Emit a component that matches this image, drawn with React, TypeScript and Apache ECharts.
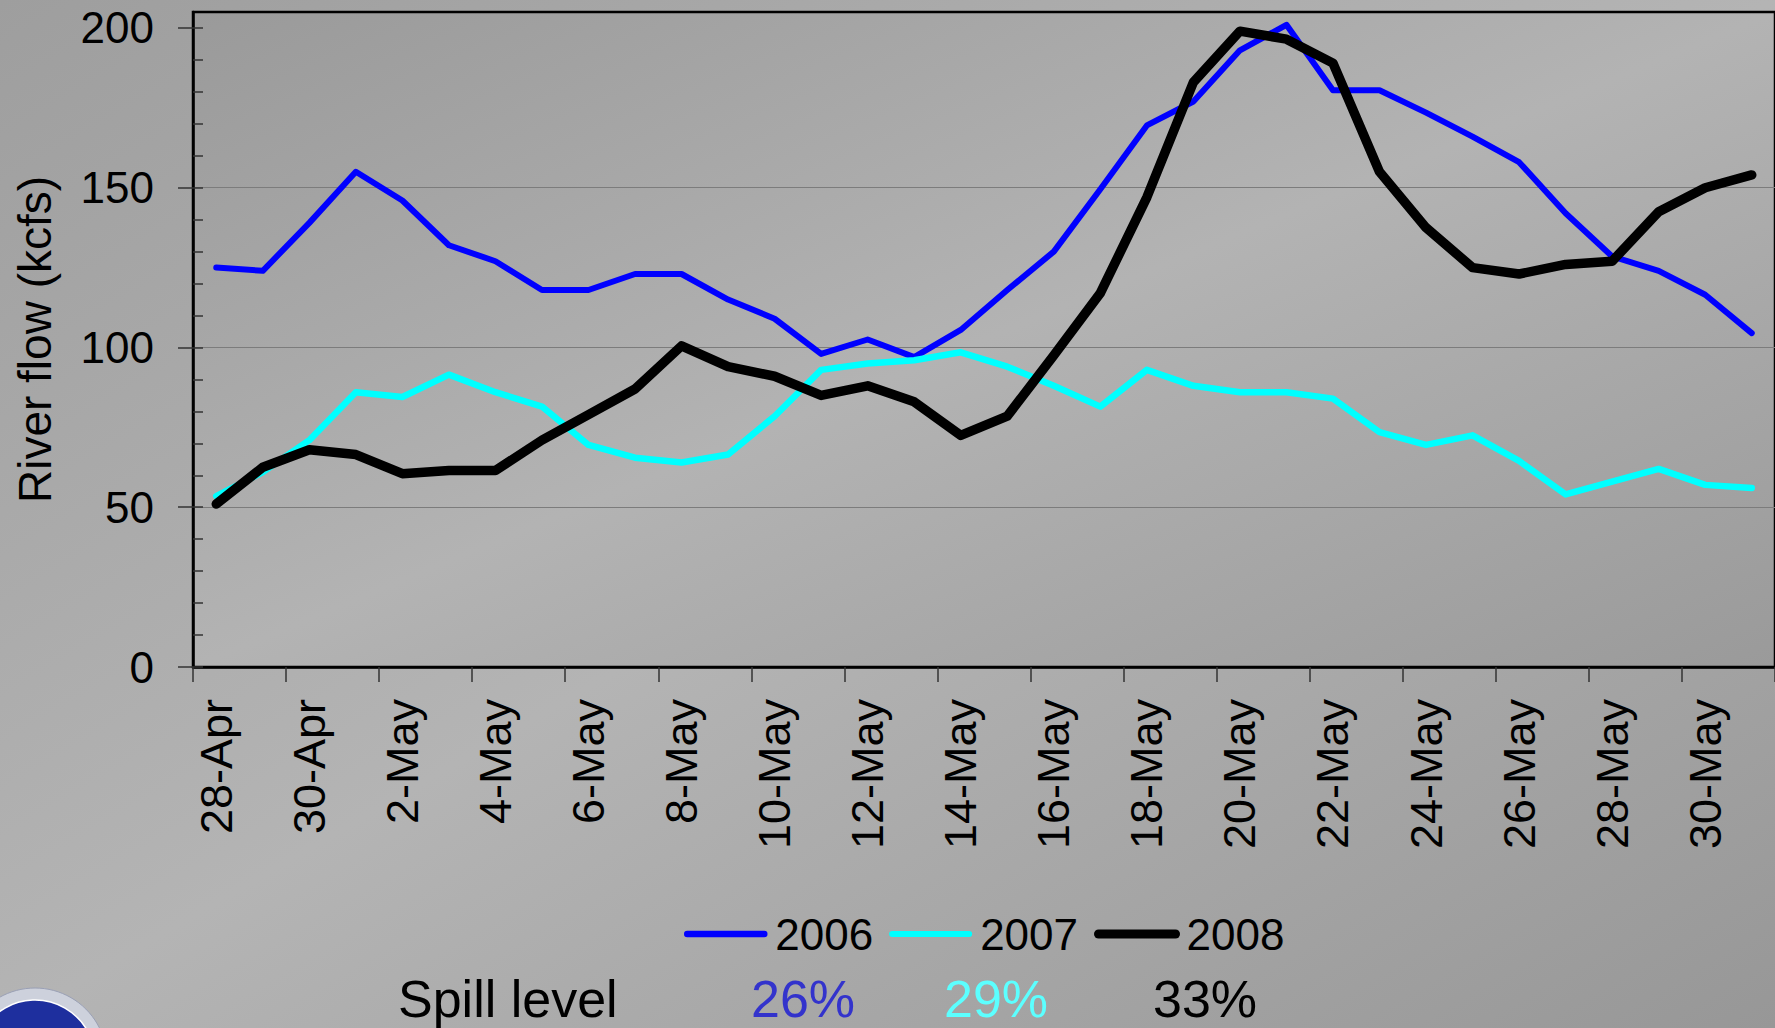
import React, { useEffect, useRef } from "react";
import * as echarts from "echarts";

const dates = [
  "28-Apr", "29-Apr", "30-Apr",
  "1-May", "2-May", "3-May", "4-May", "5-May", "6-May", "7-May", "8-May", "9-May", "10-May",
  "11-May", "12-May", "13-May", "14-May", "15-May", "16-May", "17-May", "18-May", "19-May", "20-May",
  "21-May", "22-May", "23-May", "24-May", "25-May", "26-May", "27-May", "28-May", "29-May", "30-May", "31-May",
];

const flow2006 = [125, 124, 139, 155, 146, 132, 127, 118, 118, 123, 123, 115, 109, 98, 102.5, 97, 105.5, 118, 130, 149.5, 169.5, 177, 193, 201, 180.5, 180.5, 173.5, 166, 158, 142, 128.5, 124, 116.5, 104.5];
const flow2007 = [53.5, 61, 71, 86, 84.5, 91.5, 86, 81.5, 69.5, 65.5, 64, 66.5, 78.5, 93, 95, 96, 98.5, 94, 88, 81.5, 93, 88, 86, 86, 84, 73.5, 69.5, 72.5, 64.5, 54, 58, 62, 57, 56];
const flow2008 = [51, 62.5, 68, 66.5, 60.5, 61.5, 61.5, 71, 79, 87, 100.5, 94, 91, 85, 88, 83, 72.5, 78.5, 97.5, 117, 147, 183, 199, 196.5, 189, 155, 137.5, 125, 123, 126, 127, 142.5, 150, 154];

const years = ["2006", "2007", "2008"];
const yearColors = ["#0000ff", "#00ffff", "#000000"];
const yMajorTicks = [0, 50, 100, 150, 200];
const yMinorTicks = [0, 10, 20, 30, 40, 50, 60, 70, 80, 90, 100, 110, 120, 130, 140, 150, 160, 170, 180, 190, 200];
const yAxisTitle = "River flow (kcfs)";
const spillTitle = "Spill level";
const spillLevels = ["26%", "29%", "33%"];
const spillColors = ["#3333cc", "#5cffff", "#000000"];

const FONT = '"Liberation Sans", Arial, sans-serif';

export default function App() {
  const ref = useRef<HTMLDivElement>(null);

  useEffect(() => {
    document.body.style.margin = "0";
    document.body.style.overflow = "hidden";
    if (!ref.current) return;
    const chart = echarts.init(ref.current, undefined, { renderer: "svg" });
    const seriesData = [flow2006, flow2007, flow2008];
    const widths = [6, 6.5, 9.5];
    const legendWidths = [6.5, 6, 9];
    const spillX = [751, 944, 1153];

    chart.setOption({
      animation: false,
      textStyle: { fontFamily: FONT },
      grid: {
        left: 193,
        top: 12,
        width: 1589.5,
        height: 655,
        show: true,
        borderColor: "#000",
        borderWidth: 2.5,
        backgroundColor: new echarts.graphic.LinearGradient(0, 0, 1, 1, [
          { offset: 0, color: "#9a9a9a" },
          { offset: 0.5, color: "#b3b3b3" },
          { offset: 1, color: "#9a9a9a" },
        ]),
      },
      legend: {
        left: 679,
        top: 907,
        itemWidth: 77,
        itemHeight: 14,
        itemGap: 16,
        data: years.map((y, i) => ({
          name: y,
          lineStyle: { width: legendWidths[i], cap: "round", color: yearColors[i] },
          itemStyle: { opacity: 0 },
        })),
        textStyle: { fontSize: 44, color: "#000", fontFamily: FONT, padding: [0, 0, 0, 6] },
      },
      xAxis: {
        type: "category",
        data: dates,
        boundaryGap: true,
        axisLine: { show: true, lineStyle: { color: "#000", width: 2.5 } },
        axisTick: { show: true, interval: 1, length: 15, lineStyle: { color: "#333", width: 1.5 } },
        axisLabel: { interval: 1, rotate: 90, margin: 32, fontSize: 45, color: "#000", fontFamily: FONT },
        splitLine: { show: false },
      },
      yAxis: [
        {
          type: "value",
          min: 0,
          max: 205,
          interval: 50,
          position: "left",
          name: yAxisTitle,
          nameLocation: "middle",
          nameGap: 135,
          nameTextStyle: { fontSize: 46, color: "#000", fontFamily: FONT },
          axisLine: { show: true, lineStyle: { color: "#000", width: 2.5 } },
          axisTick: { show: true, length: 15, customValues: yMajorTicks, lineStyle: { color: "#333", width: 1.5 } },
          axisLabel: {
            customValues: yMajorTicks,
            fontSize: 44,
            margin: 39,
            color: "#000",
            fontFamily: FONT,
            formatter: (v: number) => (v % 50 === 0 ? String(v) : ""),
          },
          splitLine: {
            show: true,
            showMaxLine: false,
            lineStyle: {
              color: ["#7c7c7c", "#7c7c7c", "#7c7c7c", "#7c7c7c", "#7c7c7c", "rgba(0,0,0,0)"],
              width: 1,
            },
          },
        },
        {
          type: "value",
          min: 0,
          max: 205,
          interval: 10,
          position: "left",
          offset: 0,
          axisLine: { show: false },
          axisTick: { show: true, inside: true, length: 10, customValues: yMinorTicks, lineStyle: { color: "#333", width: 1.5 } },
          axisLabel: { show: false },
          splitLine: { show: false },
        },
      ],
      series: years.map((y, i) => ({
        name: y,
        type: "line",
        data: seriesData[i],
        symbol: "none",
        showSymbol: false,
        lineStyle: { color: yearColors[i], width: widths[i], cap: "round", join: "round" },
        itemStyle: { color: yearColors[i] },
        z: 2 + i,
      })),
      graphic: [
        {
          type: "circle",
          shape: { cx: 35, cy: 1060, r: 72 },
          style: { fill: "#cdd1dc", stroke: "#9aa0b5", lineWidth: 1 },
        },
        {
          type: "circle",
          shape: { cx: 35, cy: 1060, r: 60 },
          style: { fill: "#1e2f9e", stroke: "#ffffff", lineWidth: 1.5 },
        },
        {
          type: "text",
          x: 398,
          y: 999,
          style: { text: spillTitle, fontSize: 52, fontFamily: FONT, fill: "#000", verticalAlign: "middle" },
        },
        ...spillLevels.map((s, i) => ({
          type: "text",
          x: spillX[i],
          y: 999,
          style: { text: s, fontSize: 52, fontFamily: FONT, fill: spillColors[i], verticalAlign: "middle" },
        })),
      ],
    });

    return () => chart.dispose();
  }, []);

  return (
    <div
      style={{
        position: "fixed",
        left: 0,
        top: 0,
        width: 1775,
        height: 1028,
        background: "linear-gradient(to bottom right, #9e9e9e 0%, #b4b4b4 50%, #979797 100%)",
        overflow: "hidden",
      }}
    >
      <div ref={ref} style={{ width: 1775, height: 1028 }} />
    </div>
  );
}
